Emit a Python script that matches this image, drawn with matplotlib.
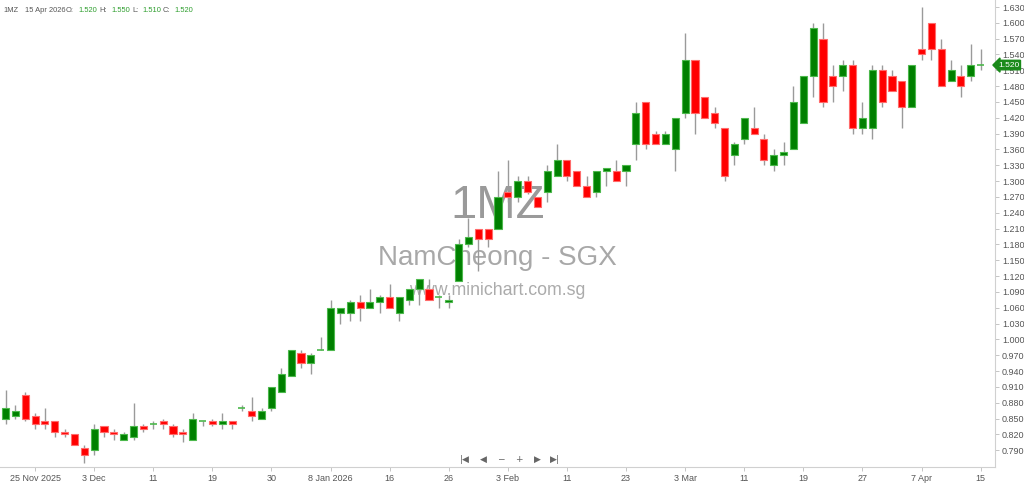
import numpy as np
import matplotlib
matplotlib.use("Agg")
import matplotlib.pyplot as plt
import matplotlib.transforms as mtransforms

# daily OHLC, 20 Nov 2025 .. 15 Apr 2026 (one entry per trading day)
opens = [0.850, 0.855, 0.895, 0.855, 0.845, 0.845, 0.825, 0.820, 0.795, 0.790,
         0.835, 0.825, 0.810, 0.815, 0.835, 0.840, 0.845, 0.835, 0.825, 0.810,
         0.845, 0.845, 0.840, 0.845, 0.870, 0.865, 0.850, 0.870, 0.900, 0.930,
         0.975, 0.955, 0.980, 0.980, 1.050, 1.050, 1.070, 1.060, 1.070, 1.080,
         1.050, 1.075, 1.095, 1.095, 1.080, 1.070, 1.110, 1.180, 1.210, 1.210,
         1.210, 1.280, 1.270, 1.300, 1.270, 1.280, 1.310, 1.340, 1.320, 1.290,
         1.280, 1.320, 1.320, 1.320, 1.370, 1.450, 1.390, 1.370, 1.360, 1.430,
         1.530, 1.460, 1.430, 1.400, 1.350, 1.380, 1.400, 1.380, 1.330, 1.350,
         1.360, 1.410, 1.500, 1.570, 1.500, 1.500, 1.520, 1.400, 1.400, 1.510,
         1.500, 1.490, 1.440, 1.550, 1.600, 1.550, 1.490, 1.500, 1.500, 1.520]
highs = [0.905, 0.875, 0.900, 0.860, 0.870, 0.845, 0.830, 0.820, 0.800, 0.840,
         0.835, 0.830, 0.825, 0.880, 0.840, 0.845, 0.850, 0.840, 0.830, 0.860,
         0.845, 0.850, 0.860, 0.845, 0.875, 0.890, 0.870, 0.910, 0.945, 0.980,
         0.980, 0.975, 1.005, 1.075, 1.060, 1.075, 1.085, 1.095, 1.085, 1.105,
         1.080, 1.095, 1.115, 1.115, 1.085, 1.085, 1.190, 1.230, 1.210, 1.210,
         1.320, 1.340, 1.310, 1.310, 1.270, 1.330, 1.370, 1.340, 1.320, 1.310,
         1.320, 1.325, 1.340, 1.330, 1.450, 1.450, 1.395, 1.395, 1.420, 1.580,
         1.530, 1.460, 1.440, 1.400, 1.375, 1.420, 1.440, 1.390, 1.360, 1.375,
         1.480, 1.500, 1.600, 1.600, 1.520, 1.530, 1.530, 1.450, 1.520, 1.520,
         1.510, 1.490, 1.520, 1.630, 1.600, 1.570, 1.530, 1.520, 1.560, 1.550]
lows = [0.840, 0.850, 0.845, 0.830, 0.830, 0.815, 0.815, 0.800, 0.765, 0.780,
        0.815, 0.810, 0.810, 0.810, 0.825, 0.830, 0.830, 0.815, 0.805, 0.810,
        0.835, 0.835, 0.830, 0.830, 0.865, 0.845, 0.850, 0.865, 0.900, 0.930,
        0.945, 0.935, 0.980, 0.980, 1.030, 1.035, 1.035, 1.060, 1.050, 1.060,
        1.035, 1.065, 1.065, 1.075, 1.060, 1.060, 1.110, 1.175, 1.130, 1.175,
        1.210, 1.260, 1.260, 1.275, 1.250, 1.260, 1.310, 1.300, 1.290, 1.270,
        1.270, 1.290, 1.300, 1.290, 1.340, 1.360, 1.370, 1.370, 1.320, 1.420,
        1.390, 1.420, 1.400, 1.300, 1.330, 1.370, 1.390, 1.330, 1.320, 1.330,
        1.360, 1.410, 1.460, 1.440, 1.450, 1.470, 1.390, 1.390, 1.380, 1.440,
        1.470, 1.400, 1.440, 1.530, 1.530, 1.480, 1.490, 1.460, 1.490, 1.510]
closes = [0.870, 0.865, 0.850, 0.840, 0.840, 0.825, 0.820, 0.800, 0.780, 0.830,
          0.825, 0.820, 0.820, 0.835, 0.830, 0.840, 0.840, 0.820, 0.820, 0.850,
          0.845, 0.840, 0.845, 0.840, 0.870, 0.855, 0.865, 0.910, 0.935, 0.980,
          0.955, 0.970, 0.980, 1.060, 1.060, 1.070, 1.060, 1.070, 1.080, 1.060,
          1.080, 1.095, 1.115, 1.075, 1.080, 1.075, 1.180, 1.195, 1.190, 1.190,
          1.270, 1.270, 1.300, 1.280, 1.250, 1.320, 1.340, 1.310, 1.290, 1.270,
          1.320, 1.325, 1.300, 1.330, 1.430, 1.370, 1.370, 1.390, 1.420, 1.530,
          1.430, 1.420, 1.410, 1.310, 1.370, 1.420, 1.390, 1.340, 1.350, 1.355,
          1.450, 1.500, 1.590, 1.450, 1.480, 1.520, 1.400, 1.420, 1.510, 1.450,
          1.470, 1.440, 1.520, 1.540, 1.550, 1.480, 1.510, 1.480, 1.520, 1.520]

# date labels, every 6th trading day starting at the 4th
date_labels = ["25 Nov 2025", "3 Dec", "11", "19", "30", "8 Jan 2026", "16",
               "26", "3 Feb", "11", "23", "3 Mar", "11", "19", "27", "7 Apr", "15"]

price_ticks = np.round(np.arange(0.790, 1.6301, 0.03), 3)

GREEN = "#008000"
GREEN_EDGE = "#4cb84c"
RED = "#ff0000"
RED_EDGE = "#ff6b6b"
WICK = "#9a9a9a"


def main():
    plt.rcParams['font.family'] = ['Liberation Sans', 'DejaVu Sans']
    fig = plt.figure(figsize=(10.24, 4.84), dpi=100)
    ax = fig.add_axes([0.0, 17 / 484, 995 / 1024, 467 / 484])

    o = np.array(opens)
    h = np.array(highs)
    l = np.array(lows)
    c = np.array(closes)
    x = np.arange(len(o))

    # wicks
    ax.vlines(x, l, h, color=WICK, linewidth=1.0, zorder=1)

    # bodies
    up = c > o
    down = c < o
    flat = c == o
    w = 0.72
    ax.bar(x[up], (c - o)[up], bottom=o[up], width=w, color=GREEN,
           edgecolor=GREEN_EDGE, linewidth=0.8, zorder=2)
    ax.bar(x[down], (o - c)[down], bottom=c[down], width=w, color=RED,
           edgecolor=RED_EDGE, linewidth=0.8, zorder=2)
    ax.hlines(c[flat], x[flat] - w / 2, x[flat] + w / 2, color=GREEN_EDGE,
              linewidth=1.2, zorder=2)

    ax.set_xlim(-0.56, 100.46)
    ax.set_ylim(0.7581, 1.6433)

    # axes look
    for s in ["top", "left"]:
        ax.spines[s].set_visible(False)
    for s in ["right", "bottom"]:
        ax.spines[s].set_color("#d0d0d0")
        ax.spines[s].set_linewidth(0.8)

    ax.yaxis.tick_right()
    ax.set_yticks(price_ticks)
    ax.set_yticklabels([f"{v:.3f}" for v in price_ticks])
    ax.tick_params(axis="y", length=3, width=0.6, color="#bbbbbb",
                   labelsize=6.5, labelcolor="#555555", pad=2)

    tick_pos = np.arange(3, len(o), 6)
    ax.set_xticks(tick_pos)
    ax.set_xticklabels(date_labels)
    ax.tick_params(axis="x", length=3, width=0.6, color="#bbbbbb",
                   labelsize=6.5, labelcolor="#555555", pad=2)

    # last price marker
    trans = mtransforms.blended_transform_factory(ax.transAxes, ax.transData)
    ax.text(1.003, c[-1], f"{c[-1]:.3f}", transform=trans, fontsize=6,
            color="white", va="center", ha="left", clip_on=False,
            bbox=dict(boxstyle="larrow,pad=0.15", fc="#1a8a1a", ec="#1a8a1a"),
            zorder=5)

    # watermarks
    ax.text(0.5, 0.5585, "1MZ", transform=ax.transAxes, fontsize=34,
            color="#9a9a9a", ha="center", va="center", zorder=0)
    ax.text(0.5, 0.448, "NamCheong - SGX", transform=ax.transAxes, fontsize=20,
            color="#a8a8a8", ha="center", va="center", zorder=0)
    ax.text(0.5, 0.378, "www.minichart.com.sg", transform=ax.transAxes,
            fontsize=12.8, color="#ababab", ha="center", va="center", zorder=0)

    # navigation buttons
    nav_y = 1 - 459 / 484
    nav = ["|◀", "◀", "−", "+", "▶", "▶|"]
    nav_x = [465, 483, 501, 519, 537, 555]
    for nx, s in zip(nav_x, nav):
        fig.text(nx / 1024, nav_y, s, fontsize=6.5, color="#666666",
                 ha="center", va="center", family=["DejaVu Sans"])

    # header
    hy = 1 - 10 / 484
    grey = "#555555"
    val = "#2e9e2e"
    parts = [(3, "1MZ", grey), (25, "15 Apr 2026", grey),
             (66, "O:", grey), (78, f"{o[-1]:.3f}", val),
             (99, "H:", grey), (111, f"{h[-1]:.3f}", val),
             (132, "L:", grey), (142, f"{l[-1]:.3f}", val),
             (163, "C:", grey), (174, f"{c[-1]:.3f}", val)]
    for px, s, col in parts:
        fig.text(px / 1024, hy, s, fontsize=5.4, color=col, ha="left",
                 va="center")

    fig.savefig("out.png", dpi=100, facecolor="white")


if __name__ == "__main__":
    main()
